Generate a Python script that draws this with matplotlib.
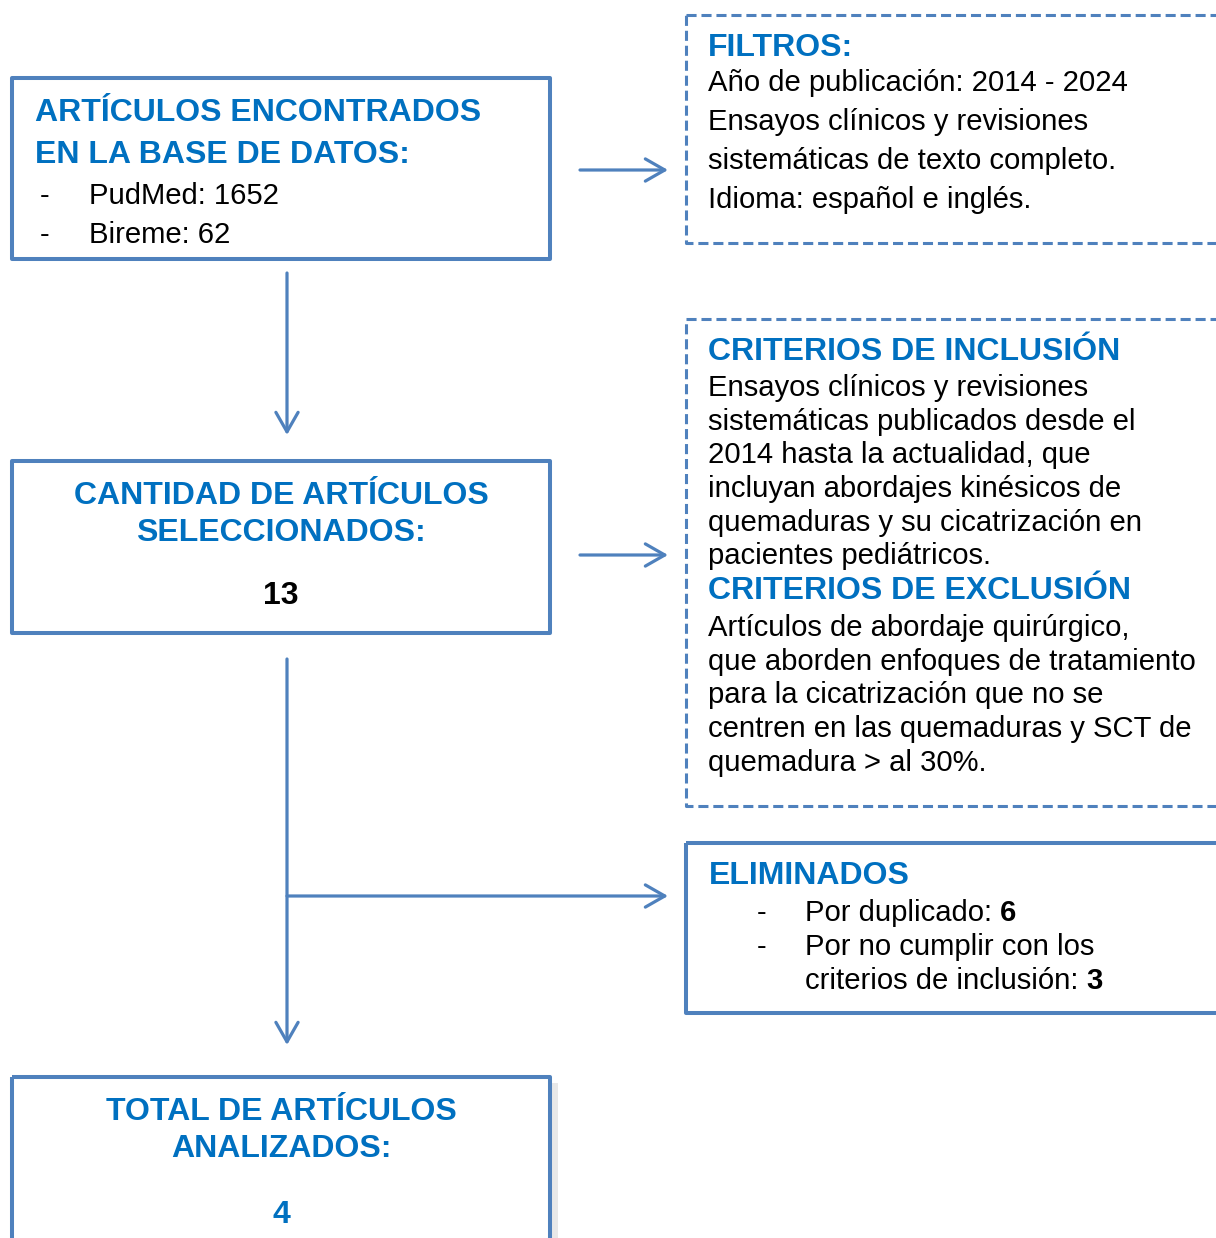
import matplotlib.pyplot as plt
from matplotlib.patches import Rectangle

plt.rcParams['font.family'] = ['Liberation Sans', 'DejaVu Sans']

BLUE_LINE = '#4F81BD'
BLUE_TEXT = '#0070C0'

# texts of the flow diagram
encontrados_title = ['ARTÍCULOS ENCONTRADOS', 'EN LA BASE DE DATOS:']
encontrados_items = ['PudMed: 1652', 'Bireme: 62']

filtros_title = 'FILTROS:'
filtros_lines = ['Año de publicación: 2014 - 2024',
                 'Ensayos clínicos y revisiones',
                 'sistemáticas de texto completo.',
                 'Idioma: español e inglés.']

inclusion_title = 'CRITERIOS DE INCLUSIÓN'
inclusion_lines = ['Ensayos clínicos y revisiones',
                   'sistemáticas publicados desde el',
                   '2014 hasta la actualidad, que',
                   'incluyan abordajes kinésicos de',
                   'quemaduras y su cicatrización en',
                   'pacientes pediátricos.']
exclusion_title = 'CRITERIOS DE EXCLUSIÓN'
exclusion_lines = ['Artículos de abordaje quirúrgico,',
                   'que aborden enfoques de tratamiento',
                   'para la cicatrización que no se',
                   'centren en las quemaduras y SCT de',
                   'quemadura > al 30%.']

seleccionados_title = ['CANTIDAD DE ARTÍCULOS', 'SELECCIONADOS:']
seleccionados_n = '13'

eliminados_title = 'ELIMINADOS'
eliminados_lines = [('Por duplicado: ', '6'),
                    ('Por no cumplir con los', ''),
                    ('criterios de inclusión: ', '3')]
eliminados_dash = [True, True, False]

total_title = ['TOTAL DE ARTÍCULOS', 'ANALIZADOS:']
total_n = '4'

TS = 23     # title size
BS = 21.1   # body size

fig = plt.figure(figsize=(12.16, 12.38), dpi=100)
ax = fig.add_axes([0, 0, 1, 1])
ax.set_xlim(0, 1216)
ax.set_ylim(1238, 0)
ax.axis('off')


def box(x0, y0, x1, y1, dashed=False):
    if dashed:
        r = Rectangle((x0, y0), x1 - x0, y1 - y0, fill=False, ec=BLUE_LINE,
                      lw=2.2, ls=(0, (3.3, 1.6)), joinstyle='round')
    else:
        r = Rectangle((x0, y0), x1 - x0, y1 - y0, fill=False, ec=BLUE_LINE,
                      lw=2.9, joinstyle='round')
    ax.add_patch(r)


def arrow(x0, y0, x1, y1):
    ax.annotate('', xy=(x1, y1), xytext=(x0, y0),
                arrowprops=dict(arrowstyle='->,head_length=1.4,head_width=0.8',
                                color=BLUE_LINE, lw=2.3, shrinkA=0, shrinkB=0,
                                capstyle='round', joinstyle='round'))


def title(x, y, s, ha='left'):
    ax.text(x, y, s, fontsize=TS, fontweight='bold', color=BLUE_TEXT,
            ha=ha, va='center')


def body(x, y, s):
    return ax.text(x, y, s, fontsize=BS, color='black', ha='left', va='center')


# shadow of the last box
ax.add_patch(Rectangle((18, 1083), 540, 170, fc='#d9d9d9', ec='none', alpha=0.6))
ax.add_patch(Rectangle((12, 1077), 538, 170, fc='white', ec='none'))

# boxes
box(12, 78, 550, 259)
box(686, 15, 1230, 243, dashed=True)
box(686, 319, 1230, 806, dashed=True)
box(12, 461, 550, 633)
box(686, 843, 1230, 1013)
box(12, 1077, 550, 1250)

# arrows
arrow(580, 170, 668, 170)
arrow(287, 273, 287, 435)
arrow(580, 555, 668, 555)
arrow(287, 659, 287, 1045)
arrow(287, 896, 668, 896)

# box 1
for i, s in enumerate(encontrados_title):
    title(35, 113 + i * 42, s)
for i, s in enumerate(encontrados_items):
    body(40, 196 + i * 39, '-')
    body(89, 196 + i * 39, s)

# filtros
title(708, 48, filtros_title)
for i, s in enumerate(filtros_lines):
    body(708, 83 + i * 39, s)

# criterios
title(708, 352, inclusion_title)
for i, s in enumerate(inclusion_lines):
    body(708, 388 + i * 33.7, s)
title(708, 591, exclusion_title)
for i, s in enumerate(exclusion_lines):
    body(708, 628 + i * 33.7, s)

# seleccionados
for i, s in enumerate(seleccionados_title):
    title(281, 496 + i * 37, s, ha='center')
ax.text(281, 596, seleccionados_n, fontsize=TS, fontweight='bold',
        color='black', ha='center', va='center')

# eliminados
title(709, 876, eliminados_title)
for i, (s, b) in enumerate(eliminados_lines):
    y = 913 + i * 34
    if eliminados_dash[i]:
        body(757, y, '-')
    t = body(805, y, s)
    if b:
        ax.annotate(b, xy=(1, 0.5), xycoords=t, fontsize=BS, fontweight='bold',
                    ha='left', va='center')

# total
for i, s in enumerate(total_title):
    title(281, 1112 + i * 37, s, ha='center')
title(281, 1215, total_n, ha='center')

fig.savefig('out.png', dpi=100)
